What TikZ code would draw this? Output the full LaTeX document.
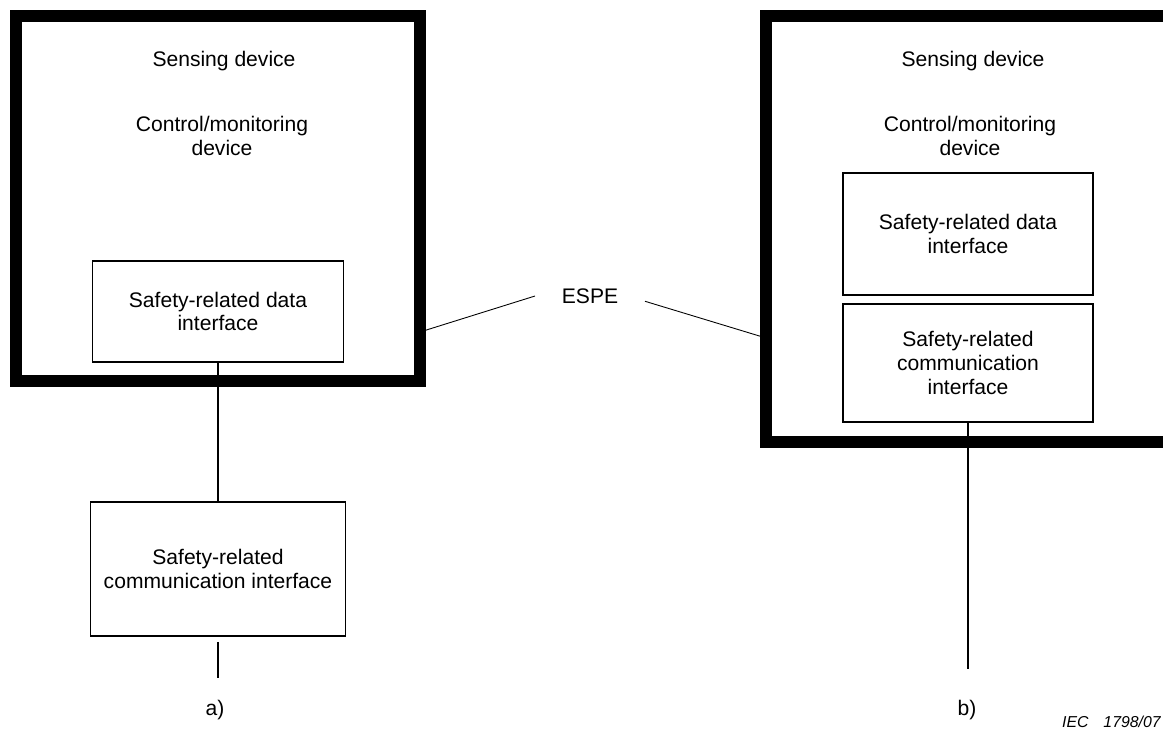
\documentclass[tikz,border=0pt]{standalone}
\usepackage{fontspec}
\setmainfont{Liberation Sans}
\usetikzlibrary{positioning}

\begin{document}
\begin{tikzpicture}[
    x=0.02cm, y=-0.02cm, % one unit = one pixel of the original sheet
    bigbox/.style={draw, line width=0.23cm, inner sep=0pt}, % Style for the thick ESPE frames
    ifbox/.style={draw, line width=0.7pt, inner sep=0pt, align=center}, % Style for interface boxes
    txt/.style={align=center, font=\fontsize{12}{13.6}\selectfont}, % Style for plain labels
    wire/.style={line width=0.7pt} % Style for connecting lines
]

    % Page area (right frame runs off the sheet)
    \useasboundingbox (0,0) rectangle (1163,729);

    % Left arrangement a)
    \node[bigbox, minimum width=8.08cm, minimum height=7.3cm] (lbig) at (218,198.5) {};
    \node[txt] (lsense) at (224,61) {Sensing device};
    \node[txt] (lctrl) at (222,136) {Control/monitoring\\device};
    \node[ifbox, txt, minimum width=5.01cm, minimum height=2.02cm] (ldata) at (218,311.5)
        {Safety-related data\\interface};
    \node[ifbox, txt, minimum width=5.1cm, minimum height=2.68cm] (lcomm) at (218,569)
        {Safety-related\\communication interface};
    \coordinate (lend) at (218,678);
    \draw[wire] (ldata.south) -- (lcomm.north);
    \draw[wire] ([yshift=-3pt]lcomm.south) -- (lend);
    \node[txt] (la) at (215,710) {a)};

    % Right arrangement b)
    \node[bigbox, minimum width=8.68cm, minimum height=8.52cm] (rbig) at (983,229) {};
    \node[txt] (rsense) at (973,61) {Sensing device};
    \node[txt] (rctrl) at (970,136) {Control/monitoring\\device};
    \node[ifbox, txt, minimum width=5.0cm, minimum height=2.44cm] (rdata) at (968,234)
        {Safety-related data\\interface};
    \node[ifbox, txt, minimum width=5.0cm, minimum height=2.36cm] (rcomm) at (968,363)
        {Safety-related\\communication\\interface};
    \coordinate (rend) at (968,669);
    \draw[wire] (rcomm.south) -- (rend);
    \node[txt] (rb) at (967,710) {b)};

    % ESPE label with its two leaders
    \node[txt, inner xsep=0.53cm] (espe) at (590,296) {ESPE};
    \coordinate (lhit) at (420,332);
    \coordinate (rhit) at (766,338);
    \draw[line width=0.5pt] (espe.west) -- (lhit);
    \draw[line width=0.5pt] ([yshift=-3pt]espe.east) -- (rhit);

    % Figure number
    \node[anchor=east, inner sep=0pt, font=\fontsize{9}{10}\selectfont\itshape] (iec) at (1161,722)
        {IEC\hspace{0.3cm}1798/07};

\end{tikzpicture}
\end{document}
